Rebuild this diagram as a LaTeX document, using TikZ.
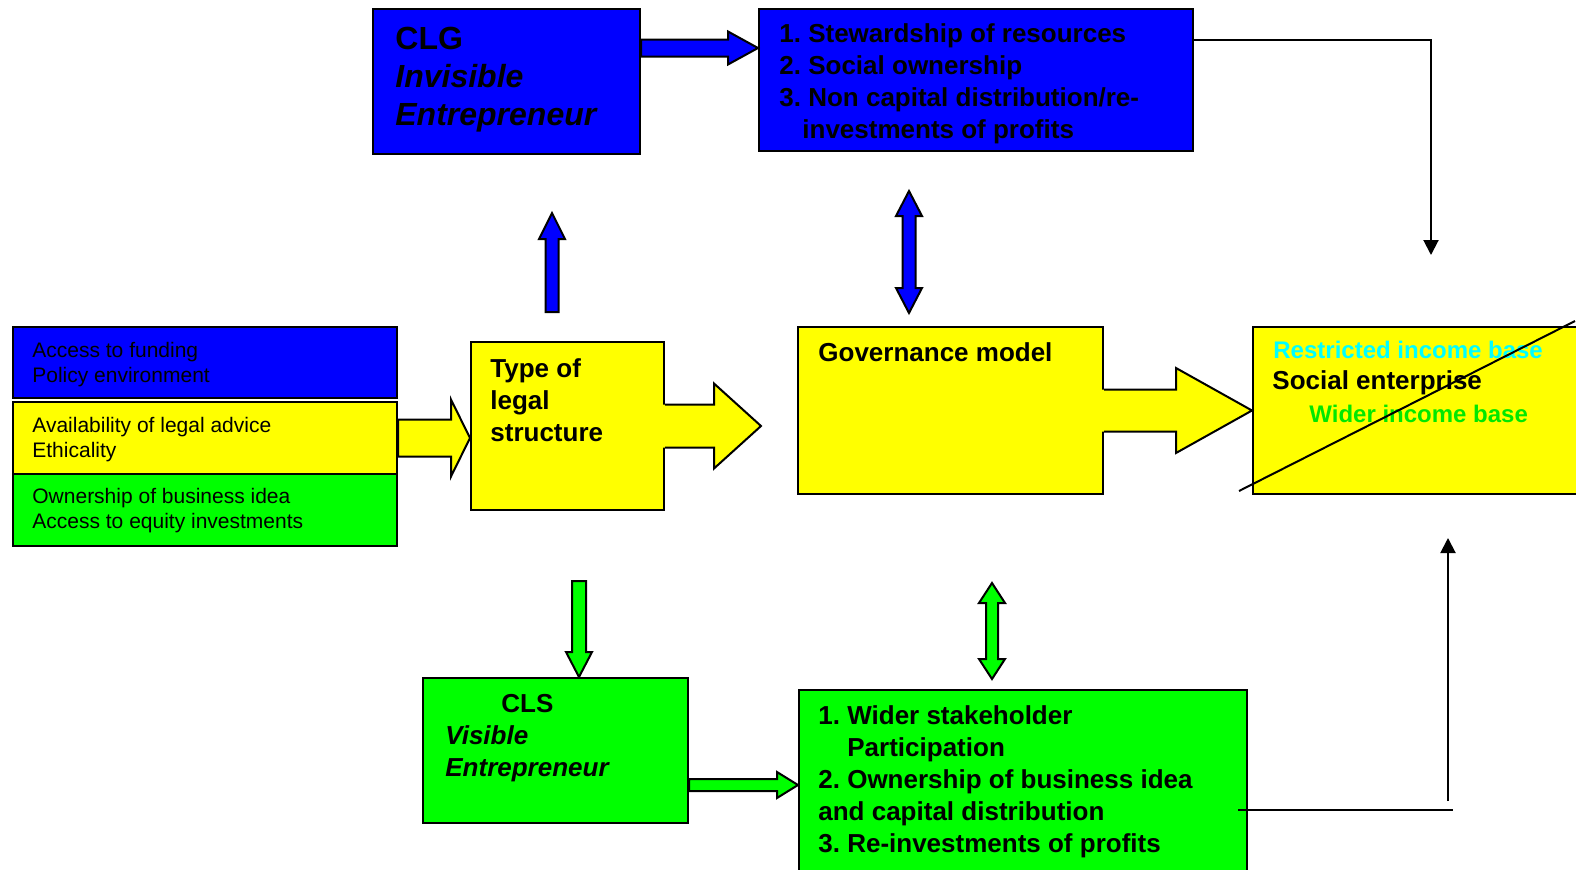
\documentclass[tikz,border=0pt]{standalone}
\usepackage{fontspec}
\setmainfont{Liberation Sans}
\usetikzlibrary{calc,arrows.meta}
\frenchspacing
\definecolor{xblue}{HTML}{0000FF}
\definecolor{xyellow}{HTML}{FFFF00}
\definecolor{xgreen}{HTML}{00FF00}
\definecolor{xcyan}{HTML}{00FFFF}
\definecolor{xwider}{HTML}{00E800}
\tikzset{
  box/.style={draw=black,line width=1pt,inner sep=0pt,anchor=north west},
  txt/.style={anchor=base west,align=left,inner sep=0pt},
  bigtxt/.style={txt,font=\fontsize{13pt}{16pt}\selectfont\bfseries},
  smalltxt/.style={txt,font=\fontsize{10.5pt}{12.5pt}\selectfont},
  fat/.style={draw=black,line width=1pt,line join=miter},
  thin/.style={draw=black,line width=1pt},
  thinarrow/.style={thin,-{Triangle[length=7.5pt,width=7.5pt]}}
}
\newcommand\blockarrow[6][]{%
  \path (#2) coordinate (bas) (#3) coordinate (bat) ($(bat)!#6!(bas)$) coordinate (bah);
  \filldraw[fat,#1] ($(bas)!#4!90:(bat)$) -- ($(bah)!#4!90:(bat)$) -- ($(bah)!#5!90:(bat)$) -- (bat)
    -- ($(bah)!#5!-90:(bat)$) -- ($(bah)!#4!-90:(bat)$) -- ($(bas)!#4!-90:(bat)$) -- cycle;}
\newcommand\joinarrow[6][]{%
  \path (#2) coordinate (bas) (#3) coordinate (bat) ($(bat)!#6!(bas)$) coordinate (bah)
    ($(bas)!-1.2pt!(bat)$) coordinate (bai);
  \fill[#1] ($(bai)!#4!90:(bat)$) -- ($(bah)!#4!90:(bat)$) -- ($(bah)!#5!90:(bat)$) -- (bat)
    -- ($(bah)!#5!-90:(bat)$) -- ($(bah)!#4!-90:(bat)$) -- ($(bai)!#4!-90:(bat)$) -- cycle;
  \draw[fat] ($(bas)!#4!90:(bat)$) -- ($(bah)!#4!90:(bat)$) -- ($(bah)!#5!90:(bat)$) -- (bat)
    -- ($(bah)!#5!-90:(bat)$) -- ($(bah)!#4!-90:(bat)$) -- ($(bas)!#4!-90:(bat)$);}
\newcommand\dblarrow[6][]{%
  \path (#2) coordinate (bas) (#3) coordinate (bat) ($(bat)!#6!(bas)$) coordinate (bah)
    ($(bas)!#6!(bat)$) coordinate (bag);
  \filldraw[fat,#1] (bas) -- ($(bag)!#5!90:(bat)$) -- ($(bag)!#4!90:(bat)$) -- ($(bah)!#4!90:(bat)$)
    -- ($(bah)!#5!90:(bat)$) -- (bat) -- ($(bah)!#5!-90:(bat)$) -- ($(bah)!#4!-90:(bat)$)
    -- ($(bag)!#4!-90:(bat)$) -- ($(bag)!#5!-90:(bat)$) -- cycle;}
\begin{document}
\begin{tikzpicture}[x=0.5pt,y=-0.5pt]
\useasboundingbox (0,0) rectangle (1576,869);
\clip (0,0) rectangle (1576,869);
\node[box,fill=xblue,minimum width=133.5pt,minimum height=72.5pt] (clg) at (372,8) {};
\node[box,fill=xblue,minimum width=217pt,minimum height=71pt] (stew) at (758,8) {};
\node[box,fill=xblue,minimum width=192pt,minimum height=35.5pt] (fund) at (12,326) {};
\node[box,fill=xyellow,minimum width=192pt,minimum height=36pt] (advice) at (12,401) {};
\node[box,fill=xgreen,minimum width=192pt,minimum height=36pt] (idea) at (12,473) {};
\node[box,fill=xyellow,minimum width=96.5pt,minimum height=84pt] (legal) at (470,341) {};
\node[box,fill=xyellow,minimum width=152.5pt,minimum height=83.5pt] (gov) at (797,326) {};
\node[box,fill=xyellow,minimum width=180pt,minimum height=83.5pt] (social) at (1252,326) {};
\node[box,fill=xgreen,minimum width=132.5pt,minimum height=72.5pt] (cls) at (422,677) {};
\node[box,fill=xgreen,minimum width=224pt,minimum height=110pt] (part) at (798,689) {};

\node[txt,font=\fontsize{16pt}{19pt}\selectfont\bfseries] (clgt) at ($(clg.north west)+(23,117)$)
  {CLG\\\textit{Invisible}\\\textit{Entrepreneur}};
\node[bigtxt] (stewt) at ($(stew.north west)+(21,130)$)
  {1. Stewardship of resources\\2. Social ownership\\3. Non capital distribution/re-\\\hspace*{11.5pt}investments of profits};
\node[smalltxt] (fundt) at ($(fund.north west)+(20,56)$) {Access to funding\\Policy environment};
\node[smalltxt] (advicet) at ($(advice.north west)+(20,56)$) {Availability of legal advice\\Ethicality};
\node[smalltxt] (ideat) at ($(idea.north west)+(20,55)$) {Ownership of business idea\\Access to equity investments};
\node[bigtxt] (legalt) at ($(legal.north west)+(20,100)$) {Type of\\legal\\structure};
\node[bigtxt] (govt) at ($(gov.north west)+(21,35)$) {Governance model};
\node[txt,font=\fontsize{12pt}{14pt}\selectfont\bfseries,text=xcyan] (restr) at ($(social.north west)+(21,32)$) {Restricted income base};
\node[bigtxt] (socialt) at ($(social.north west)+(20,63)$) {Social enterprise};
\node[txt,font=\fontsize{12pt}{14pt}\selectfont\bfseries,text=xwider] (wider) at ($(social.north west)+(57,96)$) {Wider income base};
\node[bigtxt] (clst) at ($(cls.north west)+(23,99)$) {\hspace*{28pt}CLS\\\textit{Visible}\\\textit{Entrepreneur}};
\node[bigtxt] (partt) at ($(part.north west)+(20,163)$)
  {1. Wider stakeholder\\\hspace*{14.5pt}Participation\\2. Ownership of business idea\\and capital distribution\\3. Re-investments of profits};

\draw[thin] ($(social.south west)+(-13,-4)$) -- ($(social.north west)+(323,-5)$);

\coordinate (up1) at (552,312);
\coordinate (up2) at (552,213);
\coordinate (dbl1) at (909,191);
\coordinate (dbl2) at (909,313);
\coordinate (dn1) at (579,581);
\coordinate (dbl3) at (992,583);
\coordinate (dbl4) at (992,679);
\coordinate (in1) at (1431,255);
\coordinate (out1) at (1453,810);
\coordinate (out2) at (1448,801);
\coordinate (out3) at (1448,538);

\blockarrow[fill=xblue]{$(clg.north east)+(0,40)$}{$(stew.north west)+(0,40)$}{4.25pt}{8.25pt}{15pt}
\blockarrow[fill=xblue]{up1}{up2}{3.25pt}{6.5pt}{13pt}
\dblarrow[fill=xblue]{dbl1}{dbl2}{3.25pt}{6.5pt}{12.5pt}
\blockarrow[fill=xgreen]{dn1}{dn1 |- cls.north}{3.5pt}{6.5pt}{12.5pt}
\dblarrow[fill=xgreen]{dbl3}{dbl4}{3pt}{6.5pt}{10pt}
\blockarrow[fill=xgreen]{$(cls.north east)+(0,108)$}{$(part.north west)+(0,96)$}{3pt}{6.5pt}{10.5pt}
\blockarrow[fill=xyellow]{advice.east}{legal.west |- advice.east}{9.25pt}{19.25pt}{9.5pt}
\joinarrow[xyellow]{legal.east}{$(legal.east)+(96,0)$}{10.75pt}{21.25pt}{23.5pt}
\joinarrow[xyellow]{gov.east}{social.west}{10.5pt}{21.25pt}{38pt}

\draw[thinarrow] ($(stew.north east)+(0,32)$) -| (in1);
\draw[thin] ($(part.north east)+(-10,121)$) -- (out1);
\draw[thinarrow] (out2) -- (out3);
\end{tikzpicture}
\end{document}
